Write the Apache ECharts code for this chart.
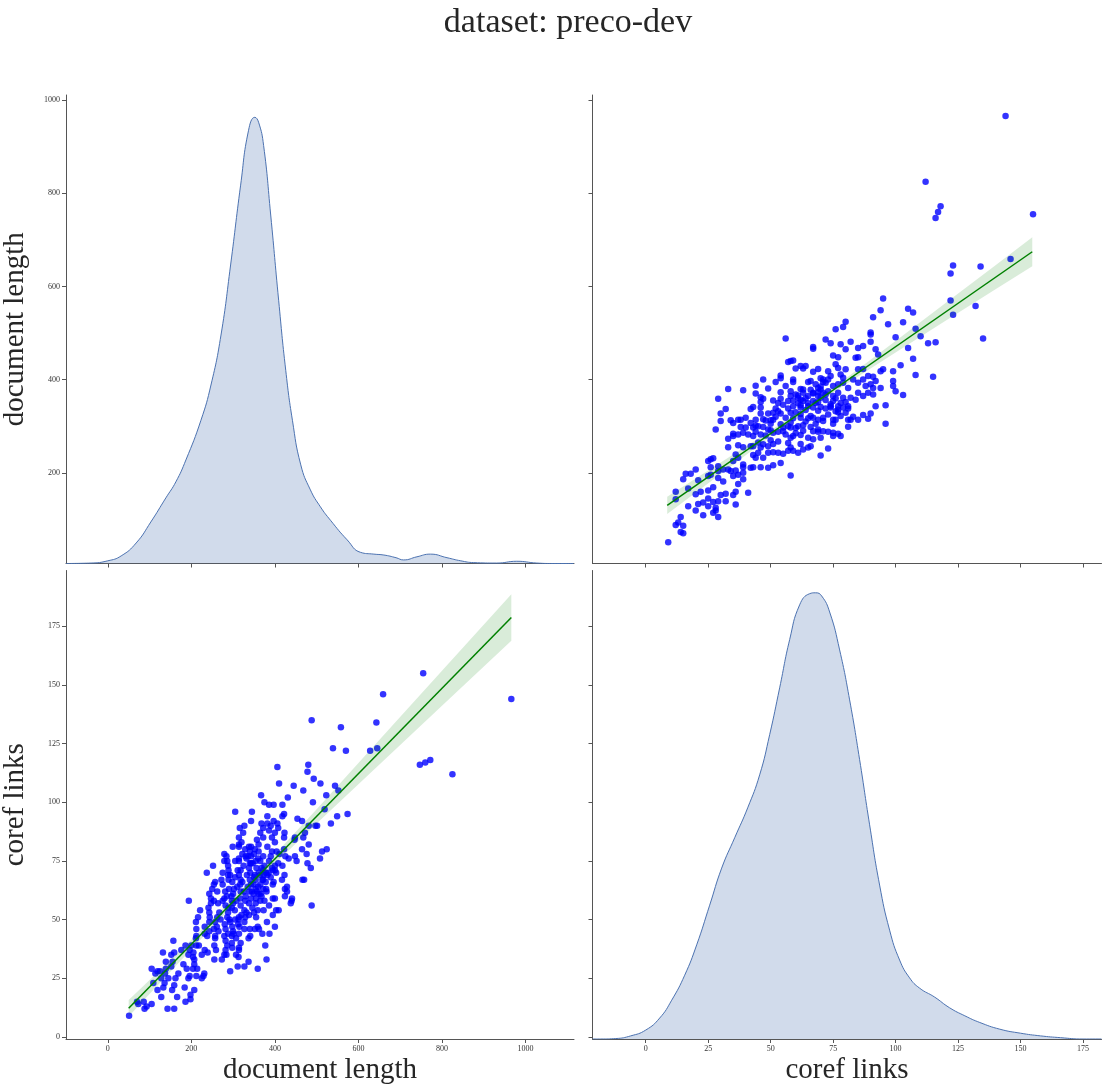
<!DOCTYPE html>
<html><head><meta charset="utf-8">
<script src="https://cdn.jsdelivr.net/npm/echarts@6/dist/echarts.min.js"></script>
<style>html,body{margin:0;padding:0;background:#fff}#chart{width:1102px;height:1090px}</style>
</head><body><div id="chart"></div>
<script>
// [document length, coref links]
const samples = [
[966,144],[825,112],[772,118],[760,117],[747,116],[755,155],[659,146],[645,123],[643,134],
[628,122],[574,95],[570,122],[558,132],[549,94],[552,105],[544,107],[539,123],[534,91],[524,80],[523,103],[519,97],[513,79],[508,76],[509,108],[493,110],[501,90],[497,90],[491,100],[488,135],[486,72],[478,74],[476,78],[481,82],[468,85],[472,87],[465,80],[481,90],[465,92],[478,113],[480,116],[468,105],[452,75],[448,77],[447,84],[448,85],[454,93],[445,107],[431,102],[433,76],[425,77],[418,73],[422,80],[422,85],[423,87],[418,94],[422,95],[418,99],[397,99],[386,99],[410,108],[406,115],[408,74],[411,78],[404,79],[400,83],[393,85],[400,87],[408,89],[406,91],[397,92],[390,90],[382,91],[386,88],[375,100],[367,103],[372,85],[365,87],[372,89],[368,91],[382,94],
[393,72],[400,73],[386,75],[390,77],[393,79],[382,81],[372,77],[375,73],[368,72],[365,75],[361,79],[361,82],[357,84],[354,75],[350,78],[343,81],[347,74],[343,92],[345,96],
[305,96],[324,87],[327,90],[316,89],[314,85],[320,83],[314,81],[314,82],[299,81],[288,73],[286,75],[284,77],[279,78],[279,75],[252,73],[314,75],[305,75],[314,76],[325,73],[332,76],[336,77],[340,79],[329,80],[338,81],[338,72],[343,74],[343,77],[311,71],
[488,56],[470,67],[466,67],[438,57],[440,58],[441,59],[424,60],[429,62],[424,63],[429,64],[423,69],[417,67],[403,70],[400,71],[409,54],[403,54],[400,47],[395,52],[386,56],[400,59],[395,59],[395,65],[397,66],[380,62],[379,63],[382,69],[379,70],[373,69],[372,71],[372,67],[387,44],[381,49],[380,33],[377,39],[370,44],[362,46],[373,54],[359,54],
[375,58],[368,60],[361,61],[355,59],[357,62],[354,63],[365,65],[370,67],[365,69],[361,70],[365,58],[354,57],[349,61],[349,65],[354,67],[352,69],
[359,29],[359,47],[352,46],[355,51],[350,53],[337,32],[337,42],[341,43],
[327,30],[340,46],[327,46],[327,49],[329,51],[332,53],[327,54],[338,57],[329,58],[343,59],[340,62],[343,65],[340,67],[341,70],
[311,30],[293,28],[313,34],[307,35],[314,37],[314,38],[318,40],[307,42],[314,44],[300,45],[312,48],[313,50],[314,51],[318,56],[317,59],[318,62],[317,65],[318,67],[314,69],
[298,38],[297,40],[297,43],[301,44],[293,49],[291,50],[304,54],[297,55],[297,58],[300,61],[302,63],[298,66],[293,69],[289,71],
[273,33],[279,35],[282,37],[286,39],[284,35],[282,41],[279,43],[282,46],[286,51],[288,53],[289,55],[282,56],[275,58],[279,59],[281,62],[275,65],[272,67],[275,70],[289,67],[288,69],
[255,33],[259,37],[255,39],[257,42],[257,43],[254,46],[261,47],[257,49],[262,51],[267,53],[264,57],[254,58],[247,59],[262,62],[254,65],[257,66],
[238,43],[243,45],[232,44],[232,47],[243,49],[244,51],[243,53],[241,55],[247,57],[243,61],[250,63],
[225,25],[231,27],[212,26],[214,29],[229,26],[225,35],[218,39],[212,39],[232,37],[239,36],[211,42],[212,43],[212,46],[211,49],[216,51],[221,54],[237,70],
[207,20],[198,16],[198,18],[186,15],[184,21],[193,25],[196,26],[204,29],[207,31],[207,33],[204,34],[205,36],[196,37],[200,39],[193,35],[181,31],[186,39],[189,29],[194,58],
[159,12],[166,17],[154,20],[159,22],[162,25],[169,27],[152,30],[155,32],[152,35],[159,36],[176,37],[157,41],
[143,12],[128,17],[133,21],[136,23],[145,25],[137,27],[139,29],[139,32],[132,36],[125,28],[119,28],[128,25],
[119,20],[109,23],[114,27],[105,29],
[105,14],[93,13],[88,12],[86,15],[73,14],[70,15],[51,9],
[330,60],[335,64],[322,66],[318,71],[345,62],[350,68],[356,72],[340,74],[333,69],[326,62],[310,64],[305,68],[296,60],[290,63],[285,60],[300,57],[308,58],[346,55],[338,52],[320,52],[315,47],[305,50],[298,47],[288,44],[280,48],[270,50],[265,45],[360,64],[366,61],[372,63],[378,66],[385,70],[390,68],[395,71],[360,76],[352,80],[330,77],[322,78]
];

// KDE of document length (normalised density)
const kdeDocX = [-100,-40,0,32,68,103,139,163,187,223,247,271,294,318,337,352,361,373,390,409,426,442,462,485,509,533,573,605,637,661,690,708,740,772,812,845,876,931,979,1027,1066,1115];
const kdeDocY = [0,0.001,0.006,0.017,0.046,0.093,0.147,0.183,0.232,0.321,0.40,0.512,0.669,0.848,0.971,1.0,0.989,0.937,0.781,0.59,0.433,0.321,0.221,0.165,0.127,0.097,0.053,0.025,0.021,0.019,0.013,0.008,0.015,0.021,0.013,0.006,0.002,0.001,0.005,0.001,0,0];
// KDE of coref links
const kdeCorefX = [-21.3,-18,-12,-6,0,5.6,10.4,15.6,20.4,25.6,30.4,35.6,40.8,45.6,49.6,53.6,57.6,61.6,65.6,68,70.4,73.6,77.6,81.6,85.6,89.6,93.6,97.6,101.6,105.6,109.6,115.6,121.6,127.7,133.7,141.7,150,158,166,175,182.4];
const kdeCorefY = [0,0,0.001,0.007,0.02,0.047,0.087,0.143,0.211,0.30,0.383,0.451,0.518,0.592,0.682,0.787,0.895,0.973,0.998,1.0,0.993,0.957,0.872,0.76,0.626,0.48,0.345,0.244,0.177,0.137,0.114,0.094,0.07,0.052,0.037,0.022,0.013,0.007,0.003,0,0];

// regression: document length on coref links (top right)
const regTRx = [8.6,30,50,65,80,100,120,140,154.7];
const regTRfit = [130,209.8,284.3,340.2,396.1,470.6,545.2,619.7,674.5];
const regTRlo = [111.4,197.3,277.9,336.2,389.7,458.1,526.1,593.9,643.5];
const regTRhi = [148.6,222.3,290.7,344.2,402.5,483.1,564.3,645.5,705.5];
// regression: coref links on document length (bottom left)
const regBLx = [50,100,200,340,500,600,800,966];
const regBLfit = [12.2,21.3,39.4,64.9,94.0,112.2,148.6,178.8];
const regBLlo = [8.7,18.3,37.4,63.6,91.0,107.7,141.1,168.9];
const regBLhi = [15.7,24.3,41.4,66.2,97.0,116.7,156.1,188.7];

const docTicksX = [0,200,400,600,800,1000];
const docTicksY = [200,400,600,800,1000];
const corefTicks = [0,25,50,75,100,125,150,175];
const docRangeX = [-100,1116];
const docRangeY = [5.2,1011];
const corefRangeX = [-21.3,182.4];
const corefRangeY = [-0.9,198.8];

const SERIF = "'Liberation Serif','DejaVu Serif',serif";
const zip = (a,b) => a.map((v,i)=>[v,b[i]]);

function axis(range, ticks, labels, extra) {
  return Object.assign({
    type:'value', min:range[0], max:range[1], scale:true,
    axisLine:{show:true, onZero:false, lineStyle:{color:'#555', width:1}},
    axisTick:{show:true, inside:false, length:4, customValues:ticks, lineStyle:{color:'#555', width:1}},
    axisLabel:{show:labels, customValues:ticks, fontSize:8, color:'#333', fontFamily:SERIF, margin:6,
      formatter:(v)=>String(v)},
    splitLine:{show:false}
  }, extra||{});
}
const hiddenAxis = (grid) => ({type:'value', gridIndex:grid, min:0, max:1.05, show:false, splitLine:{show:false}});

const nameStyle = {fontFamily:SERIF, fontSize:29, color:'#262626'};

function band(xi, yi, xs, lo, hi) {
  return {
    type:'custom', xAxisIndex:xi, yAxisIndex:yi, silent:true, z:3,
    data: xs.map((x,i)=>[x, lo[i], hi[i]]),
    encode:{x:0, y:[1,2]},
    renderItem:(params, api) => {
      if (params.dataIndex !== 0) return null;
      const pts = [];
      for (let i=0;i<xs.length;i++) pts.push(api.coord([xs[i], lo[i]]));
      for (let i=xs.length-1;i>=0;i--) pts.push(api.coord([xs[i], hi[i]]));
      return {type:'polygon', shape:{points:pts}, style:{fill:'rgba(0,128,0,0.15)', stroke:null}};
    }
  };
}

const option = {
  animation:false,
  backgroundColor:'#fff',
  title:{text:'dataset: preco-dev', left:563, top:1, textAlign:'center',
    textStyle:{fontFamily:SERIF, fontSize:34, fontWeight:'normal', color:'#262626'}},
  grid:[
    {left:65, top:95, width:509, height:468.5},
    {left:592.5, top:95, width:509, height:468.5},
    {left:65, top:570.5, width:509, height:468.5},
    {left:592.5, top:570.5, width:509, height:468.5}
  ],
  xAxis:[
    axis(docRangeX, docTicksX, false, {gridIndex:0}),
    axis(corefRangeX, corefTicks, false, {gridIndex:1}),
    axis(docRangeX, docTicksX, true, {gridIndex:2, name:'document length', nameLocation:'middle', nameGap:17, nameTextStyle:nameStyle}),
    axis(corefRangeX, corefTicks, true, {gridIndex:3, name:'coref links', nameLocation:'middle', nameGap:17, nameTextStyle:nameStyle})
  ],
  yAxis:[
    axis(docRangeY, docTicksY, true, {gridIndex:0, name:'document length', nameLocation:'middle', nameGap:36, nameTextStyle:nameStyle}),
    hiddenAxis(0),
    axis(docRangeY, docTicksY, false, {gridIndex:1}),
    axis(corefRangeY, corefTicks, true, {gridIndex:2, name:'coref links', nameLocation:'middle', nameGap:36, nameTextStyle:nameStyle}),
    axis(corefRangeY, corefTicks, false, {gridIndex:3}),
    hiddenAxis(3)
  ],
  series:[
    {type:'line', xAxisIndex:0, yAxisIndex:1, data:zip(kdeDocX,kdeDocY), symbol:'none', smooth:0.5,
     lineStyle:{color:'#4c72b0', width:1}, areaStyle:{color:'rgba(76,114,176,0.26)', opacity:1}},
    {type:'line', xAxisIndex:3, yAxisIndex:5, data:zip(kdeCorefX,kdeCorefY), symbol:'none', smooth:0.5,
     lineStyle:{color:'#4c72b0', width:1}, areaStyle:{color:'rgba(76,114,176,0.26)', opacity:1}},
    {type:'scatter', xAxisIndex:1, yAxisIndex:2, data:samples.map(p=>[p[1],p[0]]), symbolSize:6.5,
     itemStyle:{color:'#0000ff', opacity:0.8}, z:2},
    {type:'scatter', xAxisIndex:2, yAxisIndex:3, data:samples.map(p=>[p[0],p[1]]), symbolSize:6.5,
     itemStyle:{color:'#0000ff', opacity:0.8}, z:2},
    band(1,2,regTRx,regTRlo,regTRhi),
    band(2,3,regBLx,regBLlo,regBLhi),
    {type:'line', xAxisIndex:1, yAxisIndex:2, data:[[regTRx[0],regTRfit[0]],[regTRx[regTRx.length-1],regTRfit[regTRfit.length-1]]],
     symbol:'none', lineStyle:{color:'#008000', width:1.5}, z:4},
    {type:'line', xAxisIndex:2, yAxisIndex:3, data:[[regBLx[0],regBLfit[0]],[regBLx[regBLx.length-1],regBLfit[regBLfit.length-1]]],
     symbol:'none', lineStyle:{color:'#008000', width:1.5}, z:4}
  ]
};
const chart = echarts.init(document.getElementById('chart'));
chart.setOption(option);
</script></body></html>
